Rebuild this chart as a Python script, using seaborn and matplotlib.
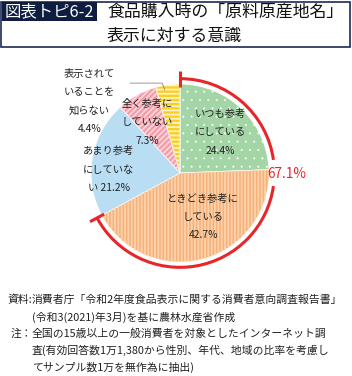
import numpy as np
import matplotlib
matplotlib.use("Agg")
import matplotlib.pyplot as plt
from matplotlib.patches import Arc, Rectangle
import seaborn as sns

# data
labels = ["いつも参考\nにしている\n24.4%",
          "ときどき参考に\nしている\n42.7%",
          "あまり参考\nにしていな\nい 21.2%",
          "全く参考に\nしていない\n7.3%",
          "表示されて\nいることを\n知らない\n4.4%"]
shares = [24.4, 42.7, 21.2, 7.3, 4.4]
base_colors = ["#a3d5a6", "#f6b07a", "#b9ddf2", "#f39ca8", "#f9cf22"]
hatch_colors = ["#f4fbf4", "#fcd2ab", "none", "#fbd3da", "#fdf3c4"]
hatches = ["..", "|||||", "", "//////", "----"]
hatch_widths = [0.3, 1.3, 1.0, 1.3, 1.3]
referred_total = "67.1%"
n_referred = 2  # first two wedges make up the 67.1 %

title_tag = "図表トピ6-2"
title_lines = ["食品購入時の「原料原産地名」", "表示に対する意識"]
source_head = "資料:"
source_body = ["消費者庁「令和2年度食品表示に関する消費者意向調査報告書」",
               "(令和3(2021)年3月)を基に農林水産省作成"]
note_head = "注："
note_body = ["全国の15歳以上の一般消費者を対象としたインターネット調",
             "査(有効回答数1万1,380から性別、年代、地域の比率を考慮し",
             "てサンプル数1万を無作為に抽出)"]

sns.set_theme(style="white")
plt.rcParams["font.family"] = ["Noto Sans CJK JP", "DejaVu Sans"]

W, H = 352, 376
fig = plt.figure(figsize=(W / 100, H / 100), dpi=100)
fig.patch.set_facecolor("white")

# pie axes: centre at (180,173) px from top-left, radius ~89 px
R_PX = 89
half = 120
ax = fig.add_axes([(180 - half) / W, (H - 173 - half) / H, 2 * half / W, 2 * half / H])

ax.pie(shares, colors=base_colors, startangle=90, counterclock=False, radius=1,
       wedgeprops=dict(edgecolor="white", linewidth=0.6))
# one hatched overlay per wedge so every pattern keeps its own line width
start = 90.0
for share, h, hc, hw in zip(shares, hatches, hatch_colors, hatch_widths):
    sweep = share / sum(shares) * 360
    if h:
        with plt.rc_context({"hatch.linewidth": hw}):
            ov, _ = ax.pie([share, sum(shares) - share], colors=["none", "none"],
                           startangle=start, counterclock=False, radius=1,
                           wedgeprops=dict(linewidth=0))
        ov[0].set_hatch(h)
        ov[0].set_edgecolor(hc)
        ov[0].set_linewidth(0)
        if hasattr(ov[0], "set_hatch_linewidth"):
            ov[0].set_hatch_linewidth(hw)
        ov[1].remove()
    start -= sweep

lim = half / R_PX
ax.set_xlim(-lim, lim)
ax.set_ylim(-lim, lim)
ax.set_aspect("equal")
ax.axis("off")

# wedge labels (layout positions in pie units)
label_pos = [(0.45, 0.46), (0.26, -0.49), (-0.80, 0.04), (-0.37, 0.57), (-1.02, 0.80)]
for txt, (x, y) in zip(labels, label_pos):
    ax.text(x, y, txt, ha="center", va="center", fontsize=7.4,
            linespacing=2.05, color="#222222")

# leader line for the small yellow wedge
ax.plot([-0.56, -0.20, -0.17], [1.01, 1.01, 0.93], color="#888888", lw=0.6)

# red bracket arc over the "reference" share
end_deg = 90 - sum(shares[:n_referred]) / sum(shares) * 360
r_arc = 1.06
gap = 8
ax.add_patch(Arc((0, 0), 2 * r_arc, 2 * r_arc, theta1=gap, theta2=90,
                 color="#e8262a", lw=2.2))
ax.add_patch(Arc((0, 0), 2 * r_arc, 2 * r_arc, theta1=end_deg, theta2=-gap,
                 color="#e8262a", lw=2.2))
for deg in (90, end_deg):
    t = np.deg2rad(deg)
    ax.plot([0.97 * np.cos(t), 1.15 * np.cos(t)], [0.97 * np.sin(t), 1.15 * np.sin(t)],
            color="#e8262a", lw=2.2, solid_capstyle="butt")
ax.text(0.98, -0.01, referred_total, ha="left", va="center", fontsize=9.8,
        color="#e8262a")

# title block
fig.add_artist(Rectangle((1 / W, (H - 47) / H), 349 / W, 45 / H, transform=fig.transFigure,
                         fill=False, edgecolor="#1b2a55", lw=1.2))
fig.add_artist(Rectangle((2 / W, (H - 21) / H), 95 / W, 19 / H, transform=fig.transFigure,
                         facecolor="#0f1d40", edgecolor="none"))
fig.text(49 / W, 1 - 11.5 / H, title_tag, ha="center", va="center", fontsize=11.8,
         color="white")
fig.text(107 / W, 1 - 12 / H, title_lines[0], ha="left", va="center", fontsize=12.2,
         color="#111111")
fig.text(107 / W, 1 - 36 / H, title_lines[1], ha="left", va="center", fontsize=12.2,
         color="#111111")

# footer
fs = 7.8
fig.text(32 / W, 1 - 300 / H, source_head, ha="right", va="center", fontsize=fs, color="#222222")
for i, line in enumerate(source_body):
    fig.text(32 / W, 1 - (300 + 17 * i) / H, line, ha="left", va="center", fontsize=fs,
             color="#222222")
fig.text(32 / W, 1 - 334 / H, note_head, ha="right", va="center", fontsize=fs, color="#222222")
for i, line in enumerate(note_body):
    fig.text(32 / W, 1 - (334 + 16.5 * i) / H, line, ha="left", va="center", fontsize=fs,
             color="#222222")

fig.savefig("out.png", dpi=100)
